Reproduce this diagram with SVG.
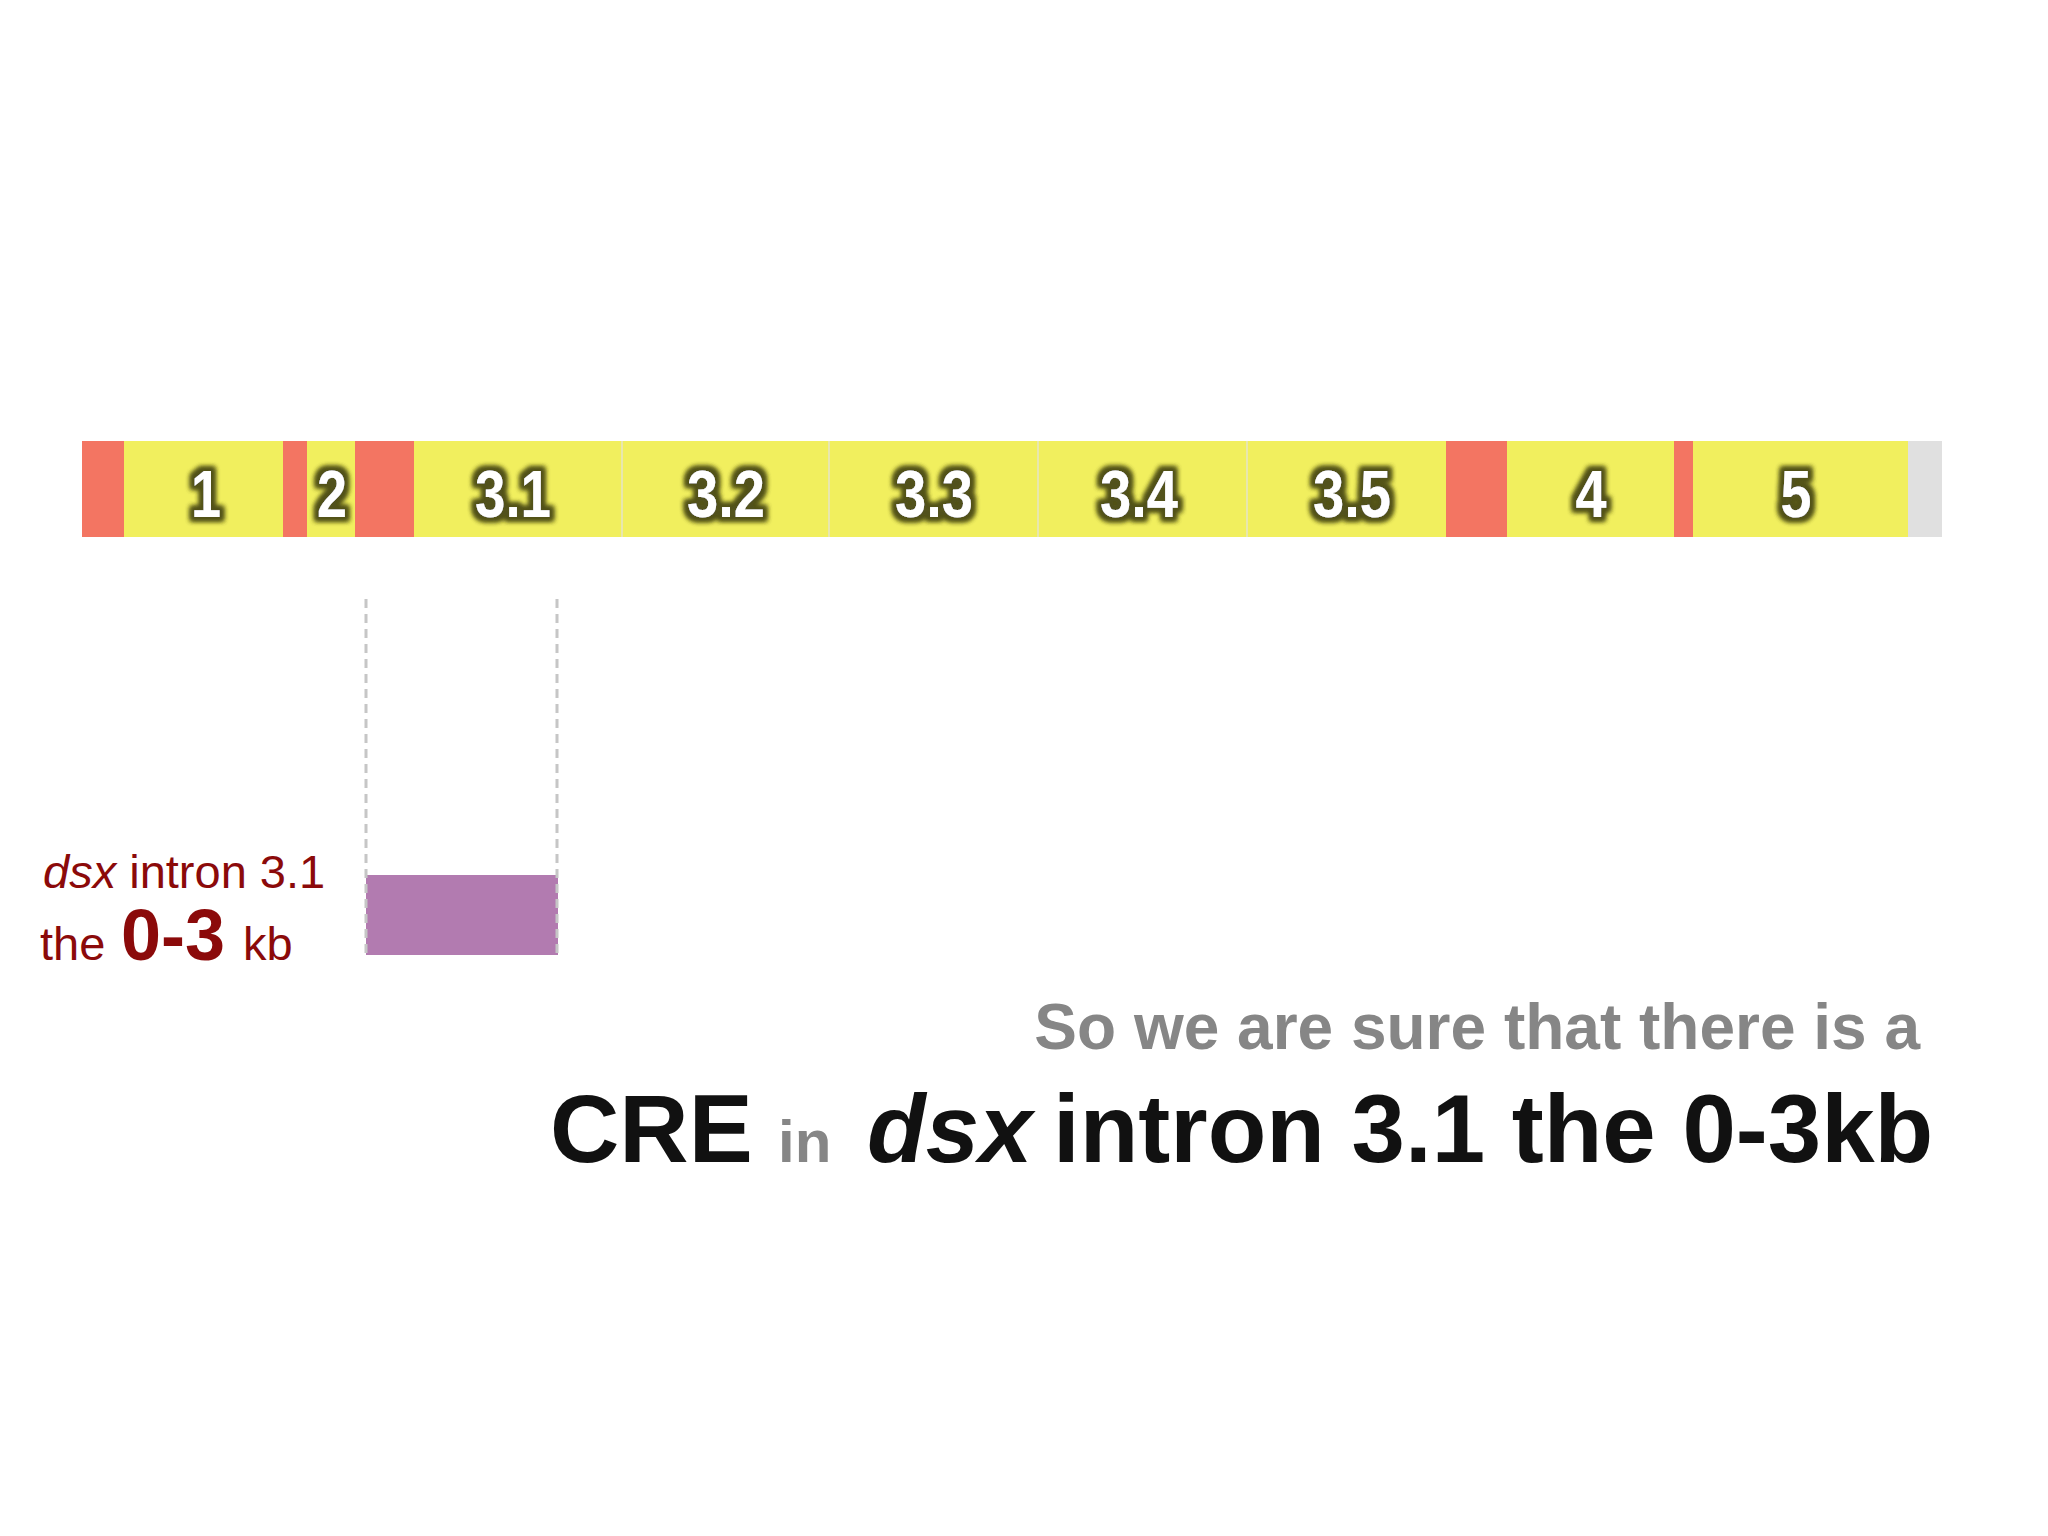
<svg xmlns="http://www.w3.org/2000/svg" width="2048" height="1536" viewBox="0 0 2048 1536">
  <defs>
    <filter id="glow" x="-30%" y="-30%" width="160%" height="160%">
      <feMorphology in="SourceAlpha" operator="dilate" radius="3.5" result="d"/>
      <feGaussianBlur in="d" stdDeviation="2.4" result="b"/>
      <feFlood flood-color="#52521a"/>
      <feComposite in2="b" operator="in" result="s"/>
      <feMerge><feMergeNode in="s"/><feMergeNode in="s"/><feMergeNode in="SourceGraphic"/></feMerge>
    </filter>
  </defs>
  <style>
    .red { fill: #f37562; }
    .yel { fill: #f1ef5e; }
    .gry { fill: #e0e0e0; }
    .div { stroke: #e4e4c8; stroke-width: 1.5; }
    .lbl { font-family: "Liberation Sans", Arial, sans-serif; font-weight: bold; font-size: 66px; fill: #ffffff; text-anchor: middle; filter: url(#glow); }
    .dash { stroke: #c6c6c6; stroke-width: 3; stroke-dasharray: 9 6; fill: none; }
    .side { font-family: "Liberation Sans", Arial, sans-serif; fill: #8b0a0a; font-size: 47px; }
    .big { font-family: "Liberation Sans", Arial, sans-serif; font-weight: bold; }
  </style>
  <rect x="0" y="0" width="2048" height="1536" fill="#ffffff"/>

  <g id="gene-bar">
    <g id="seg-red-1"><rect class="red" x="82" y="441" width="42" height="96"/></g>
    <g id="exon-1"><rect class="yel" x="124" y="441" width="159" height="96"/><text class="lbl" x="206" y="517" textLength="30" lengthAdjust="spacingAndGlyphs">1</text></g>
    <g id="seg-red-2"><rect class="red" x="283" y="441" width="24" height="96"/></g>
    <g id="exon-2"><rect class="yel" x="307" y="441" width="48" height="96"/><text class="lbl" x="332" y="517" textLength="30" lengthAdjust="spacingAndGlyphs">2</text></g>
    <g id="seg-red-3"><rect class="red" x="355" y="441" width="59" height="96"/></g>
    <g id="intron-3-1"><rect class="yel" x="414" y="441" width="208" height="96"/><text class="lbl" x="513" y="517" textLength="76" lengthAdjust="spacingAndGlyphs">3.1</text></g>
    <g id="intron-3-2"><rect class="yel" x="622" y="441" width="207" height="96"/><text class="lbl" x="726" y="517" textLength="78" lengthAdjust="spacingAndGlyphs">3.2</text></g>
    <g id="intron-3-3"><rect class="yel" x="829" y="441" width="209" height="96"/><text class="lbl" x="934" y="517" textLength="78" lengthAdjust="spacingAndGlyphs">3.3</text></g>
    <g id="intron-3-4"><rect class="yel" x="1038" y="441" width="209" height="96"/><text class="lbl" x="1139" y="517" textLength="78" lengthAdjust="spacingAndGlyphs">3.4</text></g>
    <g id="intron-3-5"><rect class="yel" x="1247" y="441" width="199" height="96"/><text class="lbl" x="1352" y="517" textLength="78" lengthAdjust="spacingAndGlyphs">3.5</text></g>
    <g id="seg-red-4"><rect class="red" x="1446" y="441" width="61" height="96"/></g>
    <g id="exon-4"><rect class="yel" x="1507" y="441" width="167" height="96"/><text class="lbl" x="1591" y="517" textLength="31" lengthAdjust="spacingAndGlyphs">4</text></g>
    <g id="seg-red-5"><rect class="red" x="1674" y="441" width="19" height="96"/></g>
    <g id="exon-5"><rect class="yel" x="1693" y="441" width="215" height="96"/><text class="lbl" x="1796" y="517" textLength="31" lengthAdjust="spacingAndGlyphs">5</text></g>
    <g id="seg-end"><rect class="gry" x="1908" y="441" width="34" height="96"/></g>
    <line class="div" x1="622" y1="441" x2="622" y2="537"/>
    <line class="div" x1="829" y1="441" x2="829" y2="537"/>
    <line class="div" x1="1038" y1="441" x2="1038" y2="537"/>
    <line class="div" x1="1247" y1="441" x2="1247" y2="537"/>
  </g>

  <g id="cre-region">
    <rect x="366" y="875" width="192" height="80" fill="#b27bb0"/>
  </g>

  <g id="connectors">
    <line class="dash" x1="366" y1="599" x2="366" y2="955"/>
    <line class="dash" x1="557" y1="599" x2="557" y2="955"/>
  </g>

  <g id="side-label">
    <text class="side" x="43" y="888"><tspan font-style="italic">dsx</tspan> intron 3.1</text>
    <text class="side" x="40" y="960">the<tspan x="121" font-weight="bold" font-size="72px">0-3</tspan><tspan x="243">kb</tspan></text>
  </g>

  <g id="caption">
    <text class="big" x="1920" y="1049" font-size="64px" fill="#868686" text-anchor="end">So we are sure that there is a</text>
    <text class="big" y="1162" font-size="96px" fill="#111111"><tspan x="550">CRE</tspan><tspan x="778" font-size="60px" fill="#868686">in</tspan><tspan x="867" font-style="italic">dsx</tspan><tspan x="1053">intron 3.1 the 0-3kb</tspan></text>
  </g>
</svg>
